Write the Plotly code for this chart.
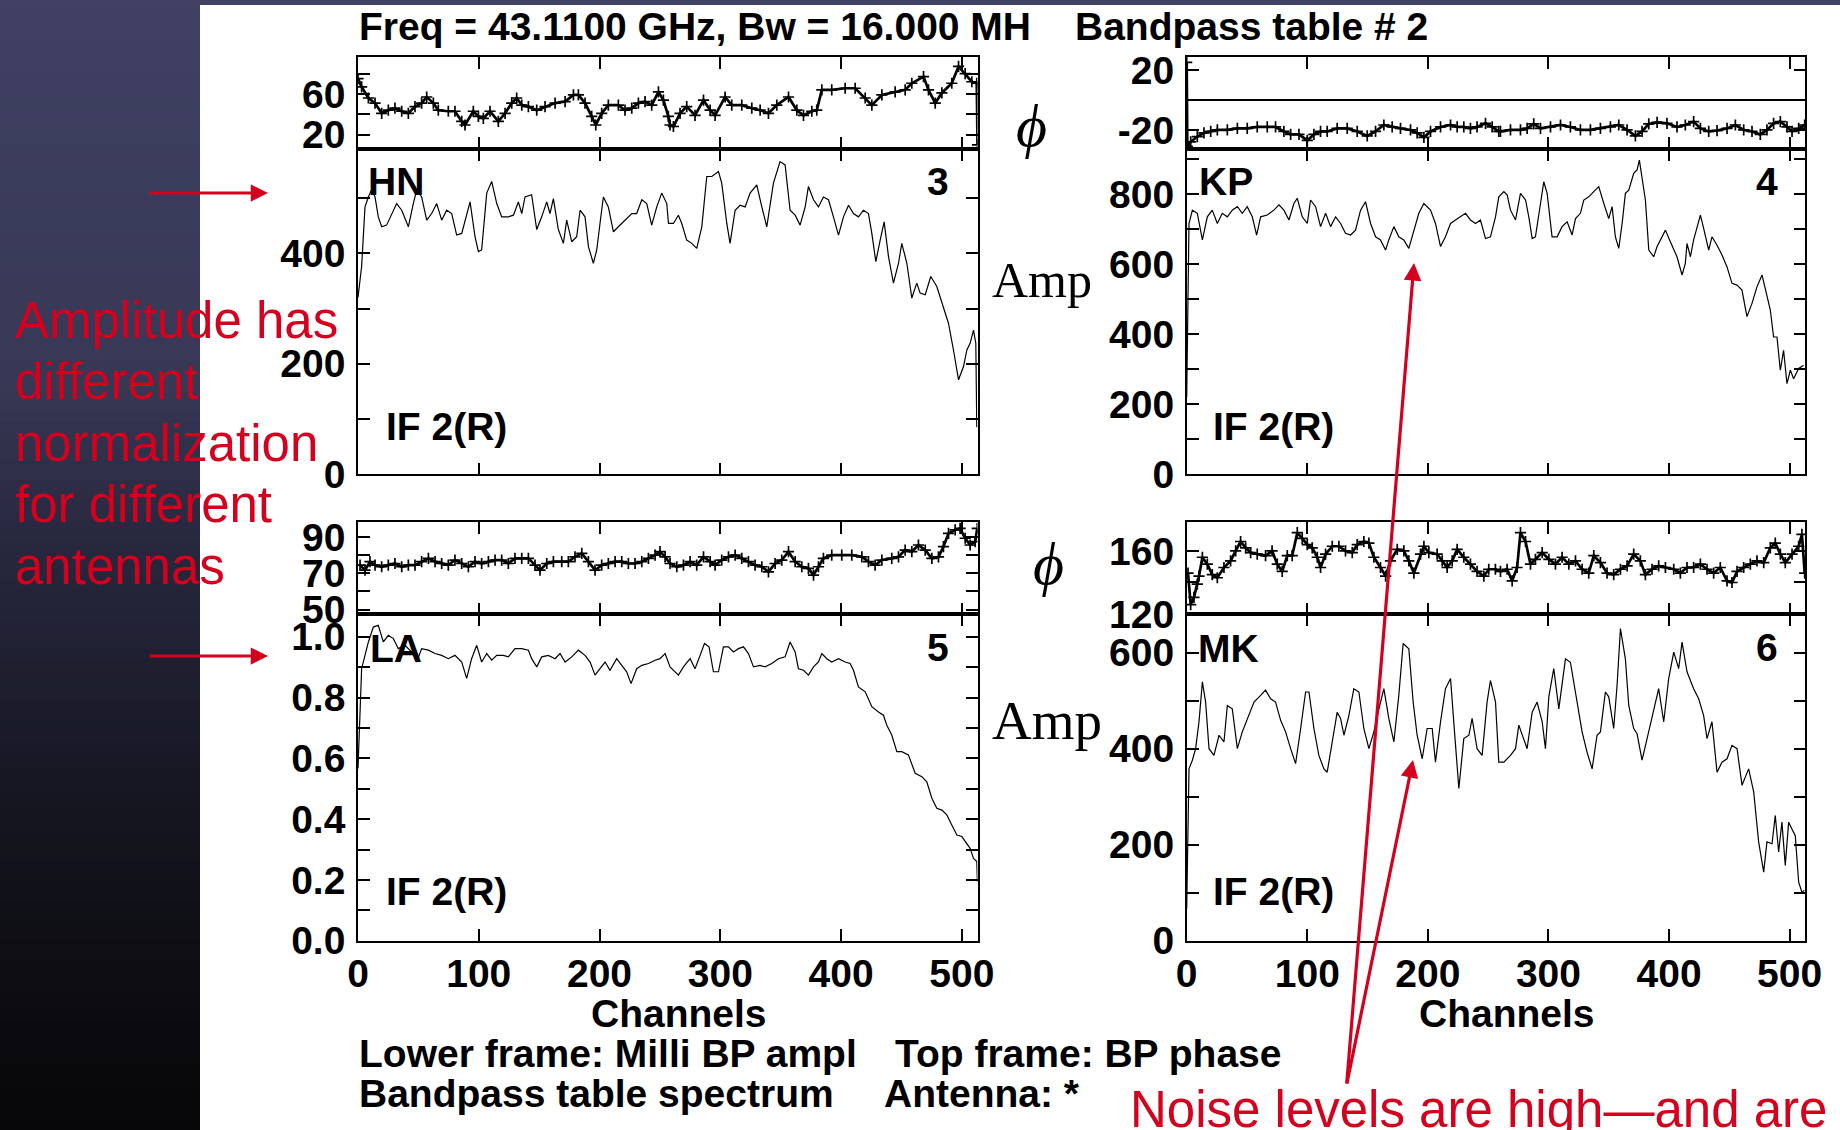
import plotly.graph_objects as go

W, H = 1840, 1130

# ---------------- data (channel, value) ----------------
HN_PHASE = [(0,75),(3,67),(8.6,56),(14.1,51),(19.6,41),(25.1,44),(30.6,46),(36.2,43),(41.7,41),(47.2,47.5),(52.7,51),(56.9,57),(62.4,51),(66.5,44),(74.8,43),(80.3,43),(85.9,33),(88.6,29.5),(95.5,43),(99.7,38),(103.8,36),(109.3,43),(116.2,33),(121.8,41),(127.3,51),(131.4,56),(135.6,49),(141.1,47.5),(148,44),(154.9,47.5),(163.2,51),(171.5,52.5),(178.4,59),(182.5,59),(188,51),(193.5,38),(196.9,29.5),(201.8,41),(207.3,49),(215.6,49),(221.1,44),(226.7,46),(232.2,51),(237.7,52.5),(243.2,49),(248.8,62),(252.9,54),(257,38),(258.4,29.5),(261.2,28),(266.7,41),(272.2,47.5),(279.1,39),(286.1,54),(291.6,44),(295.7,39),(304,57),(309.5,49),(317.8,49),(326.1,46),(333,44),(339.9,41),(346.8,49),(356.5,57),(363.4,44),(368.9,39),(375.8,43),(379.9,44),(384.1,64),(392.3,64),(403.4,65.6),(411.7,65.6),(420,56),(425.5,49),(433.8,59),(444.8,62),(453.1,64),(458.6,70.5),(468.3,77),(472.4,64),(478,51),(483.5,61),(491.7,70.5),(497.3,87),(502.8,80),(508.3,72),(512.4,70.5),(513,10)]

HN_AMP = [(0,320),(3,376),(5.8,484),(8.6,502),(11.3,515),(14.1,502),(16.8,466),(19.6,448),(23.7,451),(27.9,472),(32,490),(36.2,478),(41.7,448),(45.8,490),(48.6,515),(52.7,502),(56.9,460),(61,472),(65.2,490),(69.3,460),(73.4,478),(77.6,472),(81.7,433),(85.9,436),(92.8,493),(96.9,430),(99.7,403),(102.4,406),(106.6,509),(110.7,530),(114.9,490),(119,466),(124.5,466),(128.7,469),(132.8,493),(135.6,472),(138.3,502),(143.8,506),(148,443),(152.1,466),(156.3,493),(159,472),(161.8,499),(165.9,443),(170.1,418),(172.8,460),(177,421),(181.1,430),(183.9,478),(188,466),(190.8,412),(194.9,382),(197.7,406),(200.4,454),(203.2,502),(207.3,484),(211.5,439),(215.6,448),(221.1,460),(226.7,472),(230.8,472),(235,497),(239.1,490),(243.2,451),(247.4,484),(251.5,509),(255.7,490),(257.1,454),(261.2,454),(265.3,469),(268.1,454),(272.2,424),(276.4,418),(280.5,409),(284.7,448),(288.8,539),(293,539),(298.5,548),(301.2,527),(305.4,454),(308.1,418),(312.3,478),(316.4,487),(320.6,484),(324.7,509),(330.2,524),(334.4,484),(338.5,448),(344,527),(349.5,566),(353.7,560),(357.8,478),(362,469),(366.1,451),(370.3,484),(373,521),(377.2,497),(381.3,484),(385.4,502),(389.6,497),(393.7,466),(397.9,433),(402,466),(406.2,487),(410.3,472),(414.4,466),(418.6,478),(422.7,472),(425.5,436),(428.8,385),(432.4,424),(435.7,457),(439.3,394),(443.4,346),(447.6,382),(450.3,418),(454.5,382),(458.6,319),(462.7,346),(465.5,328),(469.7,325),(474.3,358),(479.3,340),(483.5,310),(489,273),(493.1,225),(497.3,171),(501.4,195),(504.2,225),(506.9,237),(509.7,261),(511.6,237),(512.4,85)]

KP_PHASE = [(0,25),(0.5,-31),(3.3,-28),(8.8,-24.4),(14.3,-22),(19.9,-21),(25.4,-20),(33.7,-20),(42,-19),(50.2,-19),(58.5,-18),(66.8,-18),(73.7,-18),(80.6,-21),(86.2,-23),(93.1,-23),(100,-27),(105.5,-23),(111,-21),(116.5,-21),(124.8,-19),(133.1,-19),(141.4,-21),(149.7,-24),(156.6,-21),(163.5,-16.7),(170.4,-18),(177.3,-19),(185.6,-20),(191.1,-22),(196.7,-25),(202.2,-21),(210.5,-18),(218.8,-16.7),(224.3,-18),(229.8,-18),(235.3,-19),(240.8,-18),(247.8,-15.6),(253.3,-18),(258.8,-21),(260.2,-21),(268.5,-20),(276.8,-20),(282.3,-19),(287.8,-16),(293.4,-19),(301.7,-18),(310,-16.7),(318.2,-18),(326.5,-20),(334.8,-20),(343.1,-19),(351.4,-18),(358.3,-16.7),(365.2,-20),(372.1,-24),(377.6,-21),(383.2,-16),(390.1,-15),(398.3,-15.6),(406.6,-18),(413.5,-16.7),(420.4,-14.4),(426,-19),(432.9,-21),(439.8,-20.4),(448.1,-19),(455,-16.7),(461.9,-20),(468.8,-21),(475.7,-23),(481.2,-20),(486.7,-15.6),(492.3,-14.4),(497.8,-18),(502,-21),(507.5,-19),(512.5,-16.7)]

KP_AMP = [(0,220),(1.9,716),(4.7,754),(8.8,745),(13,669),(17.1,735),(21.2,754),(25.4,716),(29.5,745),(33.7,735),(37.8,754),(42,764),(46.1,745),(50.2,764),(54.4,735),(58,683),(61.3,735),(66.8,740),(72.3,754),(76.5,769),(80.6,754),(84.8,726),(88.9,773),(91.7,788),(95.8,735),(100,716),(102.7,783),(106.9,764),(111,707),(115.2,745),(119.3,707),(123.5,735),(127.6,716),(131.7,688),(135.9,683),(140,697),(144.2,754),(148.3,778),(152.5,716),(156.6,678),(160.7,669),(164.9,640),(167.6,669),(171.8,707),(175.9,678),(180,669),(184.2,645),(188.4,697),(192.5,745),(196.7,773),(202.2,754),(206.3,716),(210.5,650),(214.6,678),(218.8,716),(222.9,726),(227,735),(231.2,745),(235.3,726),(239.5,716),(243.6,726),(247.8,673),(251.9,678),(256.1,735),(258.8,792),(263,807),(265.8,797),(268.5,754),(272.7,726),(276.8,802),(281,783),(283.7,735),(286.5,673),(289.2,678),(293.4,773),(296.1,835),(298.9,802),(303,678),(307.2,678),(311.3,707),(315.5,721),(319.6,683),(322.4,730),(326.5,745),(329.3,783),(333.4,792),(337.6,807),(341.7,821),(345.9,773),(350,730),(352.8,764),(355.5,678),(358.3,645),(361.1,716),(363.8,802),(366.6,811),(370.7,859),(373.5,869),(375.4,897),(377.6,850),(380.4,783),(383.2,640),(387.3,621),(390.1,650),(394.2,678),(397,697),(401.1,664),(406.6,621),(410.8,569),(413.5,602),(414.9,659),(417.7,621),(420.4,669),(423.2,707),(426,740),(428.7,702),(432.9,640),(435.6,678),(439.8,654),(443.9,626),(448.1,592),(452.2,545),(456.4,540),(460.5,526),(464.6,450),(468.8,488),(472.9,535),(477.1,569),(479.8,526),(484,469),(486.7,392),(489.5,392),(492.3,297),(495,354),(497.8,259),(500.6,297),(503.3,273),(507.5,302),(511.6,311)]

LA_PHASE = [(1.7,74.5),(5.8,71.7),(9.9,76.4),(14.1,74.5),(19.6,73.6),(25.1,74.5),(30.6,75.4),(36.2,73.6),(41.7,74.5),(47.2,74.5),(52.7,76.4),(58.3,78.2),(63.8,76.4),(69.3,75.4),(74.8,74.5),(80.3,77.3),(85.9,75.4),(91.4,73.6),(96.9,76.4),(102.4,75.4),(108,76.4),(113.5,77.3),(119,77.3),(124.5,75.4),(130,78.2),(135.6,78.2),(141.1,78.2),(146.6,74.5),(150.7,71.7),(156.3,75.4),(161.8,76.4),(168.7,76.4),(174.2,76.4),(179.7,79.1),(185.3,81),(190.8,76.4),(196.3,71.7),(201.8,74.5),(207.3,75.4),(212.9,76.4),(218.4,76.4),(223.9,75.4),(229.4,75.4),(235,76.4),(240.5,78.2),(246,80),(250.1,81.9),(254.3,79.1),(258.4,75.4),(264,73.6),(269.5,74.5),(275,76.4),(280.5,74.5),(286.1,79.1),(291.6,76.4),(295.7,74.5),(301.2,77.3),(306.8,79.1),(312.3,80),(317.8,78.2),(323.3,76.4),(328.8,74.5),(334.4,73.6),(339.9,70.8),(345.4,75.4),(350.9,77.3),(356.5,81.9),(362,76.4),(367.5,73.6),(373,72.7),(377.2,69),(381.3,73.6),(385.4,78.2),(392.3,80),(400.6,80),(408.9,80),(417.2,79.1),(422.7,76.4),(428.2,74.5),(433.8,77.3),(442,78.2),(447.6,79.1),(453.1,82.8),(458.6,81.9),(464.1,85.6),(469.7,82.8),(475.2,78.2),(480.7,79.1),(484.8,84.7),(489,92),(494.5,93.9),(498.6,94.8),(502.8,89.3),(506.9,85.6),(511.1,87.4),(512.8,94.8)]

LA_AMP = [(0,0.567),(3,0.895),(5.8,0.939),(8.6,0.983),(12.7,1.032),(16.8,1.038),(21,0.983),(25.1,1.005),(29.3,0.994),(33.4,0.961),(38.9,0.972),(44.5,0.95),(48.6,0.917),(52.7,0.961),(58.3,0.956),(63.8,0.945),(69.3,0.939),(74.8,0.928),(80.3,0.939),(85.9,0.917),(90,0.863),(94.1,0.928),(98.3,0.972),(102.4,0.917),(106.6,0.945),(110.7,0.923),(114.9,0.939),(120.4,0.939),(124.5,0.934),(130,0.961),(135.6,0.961),(141.1,0.956),(143.8,0.928),(148,0.901),(152.1,0.934),(157.6,0.939),(163.2,0.928),(167.3,0.945),(171.5,0.917),(177,0.934),(182.5,0.956),(188,0.939),(192.2,0.917),(196.3,0.874),(200.4,0.895),(204.6,0.917),(208.7,0.89),(214.2,0.928),(218.4,0.906),(222.5,0.885),(226.1,0.846),(230.8,0.895),(235,0.906),(240.5,0.912),(246,0.923),(250.1,0.928),(254.3,0.945),(258.4,0.901),(265.3,0.874),(269.5,0.901),(275,0.928),(279.1,0.895),(283.3,0.939),(286.9,0.978),(290.7,0.967),(294.3,0.885),(298.5,0.885),(302.6,0.967),(306.8,0.967),(310.9,0.95),(315,0.961),(319.2,0.967),(323.3,0.945),(327.5,0.901),(333,0.906),(337.1,0.901),(342.6,0.912),(348.2,0.928),(353.7,0.934),(357.8,0.983),(362,0.95),(364.7,0.895),(368.9,0.89),(373,0.874),(377.2,0.901),(381.3,0.917),(384.1,0.945),(388.2,0.928),(392.3,0.917),(397.9,0.928),(403.4,0.917),(407.5,0.912),(410.3,0.89),(414.4,0.835),(420,0.819),(425.5,0.77),(431,0.753),(435.1,0.742),(437.9,0.709),(442,0.677),(446.2,0.622),(450.3,0.622),(455.8,0.611),(461.4,0.551),(466.9,0.54),(471,0.523),(475.2,0.469),(479.3,0.436),(483.5,0.43),(487.6,0.414),(491.7,0.381),(495.9,0.348),(500,0.343),(504.2,0.321),(506.9,0.304),(509.7,0.271),(512.4,0.261),(512.9,0.195)]

MK_PHASE = [(1.1,146),(3.3,126),(6,130.5),(8.8,139),(10.2,144),(13,156),(17.1,151.6),(21.2,145),(25.4,143),(30.9,149.5),(36.4,153.7),(40.6,160),(44.7,166),(48.9,162),(53,159),(58.5,158),(65.4,157),(70.8,160),(75.1,151.6),(79.2,147),(83.4,157),(87.5,157),(91.7,171.6),(95.8,168),(100,164),(104.1,162),(108.3,156),(111,149.5),(115.2,158),(120.7,163),(126.2,163),(131.7,160),(137.3,159),(141.4,164),(146.9,166),(151.1,165),(155.2,156),(160.7,149.5),(165,144),(169,153.7),(174.6,161),(180.1,160),(184.2,153.7),(188.4,146),(193.9,158),(196.7,163),(200.8,159),(207.7,158),(211.9,153.7),(216,149.5),(220.2,153.7),(224.3,161),(229.8,156),(235.3,151.6),(240.8,147),(246.4,144),(250.5,148.4),(256,148.4),(260.2,147),(265.7,148.4),(269.9,141),(274,149.5),(276.8,171.6),(281,166),(285.1,151.6),(289.2,154.7),(294.8,159),(300.3,154.7),(305.8,151.6),(311.3,156),(316.9,151.6),(322.4,153.7),(327.9,148.4),(333.4,146),(337.6,157),(343.1,152.6),(348.6,146),(354.1,145),(359.7,148.4),(365.2,150.5),(370.7,158),(376.2,153.7),(380.4,145),(385.9,148.4),(391.4,150.5),(397,149.5),(403.9,148.4),(409.4,146),(414.9,149.5),(420.4,149.5),(426,151.6),(431.5,148.4),(437,146),(442.5,149.5),(448.1,141),(452.2,140),(456.4,147),(461.9,149.5),(467.4,151.6),(472.9,153.7),(478.5,152.6),(484,162),(488.1,165),(492.3,158),(496.4,152.6),(502,158),(507.5,163),(510.2,170.5),(512.5,146)]

MK_AMP = [(0,67),(1.9,358),(4.7,376),(7.4,400),(10.2,456),(13,539),(15.7,497),(18.5,400),(22.6,386),(26.8,428),(30.9,414),(33.7,490),(37.8,483),(42,400),(46.1,435),(50.2,463),(55.8,497),(61.3,511),(65.4,522),(69.6,504),(73.7,497),(77.9,459),(82,435),(86.2,400),(90.3,369),(94.5,442),(98.6,518),(101.4,518),(105.5,442),(109.6,386),(113.8,358),(116.5,351),(120.7,414),(124.8,476),(127.6,463),(130.4,428),(134.5,469),(138.6,525),(142.8,518),(146.9,442),(151.1,400),(155.2,435),(159.4,483),(163.5,525),(167.6,463),(171.8,414),(175.9,511),(179.5,619),(184.2,608),(187.8,497),(191.1,428),(195.3,379),(199.4,442),(203.6,442),(206.3,372),(210.5,456),(214.6,525),(218.8,546),(222.1,435),(225.7,317),(229.8,421),(234,428),(236.7,463),(240.8,400),(245,386),(249.1,497),(251.9,542),(256.1,497),(258.8,372),(263,372),(268.5,386),(272.7,400),(275.4,449),(278.2,428),(282.3,400),(286.5,476),(290.6,497),(294.8,456),(297.5,400),(300.3,508),(304.4,567),(308.6,483),(314.1,587),(318.2,580),(323.8,497),(327.9,435),(332,393),(336.2,358),(340.3,428),(343.1,435),(347.2,518),(350,508),(354.1,442),(356.9,532),(359.7,650),(363.8,587),(366.6,490),(370.7,442),(373.5,431),(377.6,376),(381.8,421),(387.3,483),(391.4,525),(395.6,456),(399.7,546),(403.9,601),(408,567),(410.8,622),(414.9,560),(420.4,525),(424.6,504),(428.7,469),(431.5,421),(435.6,456),(439.8,351),(443.9,372),(448.1,379),(452.2,407),(456.4,400),(460.5,324),(466,358),(470.2,310),(474.3,206),(478.5,143),(481.2,206),(485.4,202),(488.1,261),(490.9,185),(493.6,247),(496.4,157),(499.2,247),(501.9,233),(504.7,219),(507.5,122),(510.2,101),(512.2,105)]

ANTENNAS = ["HN", "KP", "LA", "MK"]
PANEL_NUMBERS = ["3", "4", "5", "6"]
X_TICKS = [0, 100, 200, 300, 400, 500]
KP_PHASE_TICKS = [-20, 20]
KP_PHASE_TICKTEXT = ["-20", "20"]

TITLE_LEFT = "Freq = 43.1100 GHz, Bw = 16.000 MH"
TITLE_RIGHT = "Bandpass table # 2"
FOOT_1L = "Lower frame: Milli BP ampl"
FOOT_1R = "Top frame: BP phase"
FOOT_2L = "Bandpass table spectrum"
FOOT_2R = "Antenna: *"
RED_NOTE_LINES = ["Amplitude has", "different", "normalization", "for different", "antennas"]
RED_NOTE_2 = "Noise levels are high\u2014and are"

# ---------------- helpers ----------------
def px(x):
    return x / W


def py(y):
    return 1 - y / H


RED = "#d3001e"
SANS = "Liberation Sans, Arial, Helvetica, sans-serif"
SERIF = "Liberation Serif, Times New Roman, DejaVu Serif, serif"
BOLD = dict(family=SANS, size=39, color="black", weight="bold")

fig = go.Figure()

panels = [
    dict(ph=HN_PHASE, amp=HN_AMP, x0=358, x1=977.5, yt=57.3, yd=149, yb=474.3,
         pr=[5.9, 96.0], pt0=20, pdt=40, pmin=20, ar=[0, 588.8], adt=200, amin=100, fmt="d", zero=False, xlab=False),
    dict(ph=KP_PHASE, amp=KP_AMP, x0=1186.7, x1=1805.3, yt=57.3, yd=149, yb=474.3,
         pr=[-32.7, 28.4], pt0=-20, pdt=40, pmin=20, ar=[0, 928.6], adt=200, amin=100, fmt="d", zero=True, xlab=False),
    dict(ph=LA_PHASE, amp=LA_AMP, x0=358, x1=977.5, yt=522.3, yd=614.3, yb=940.8,
         pr=[47.4, 98.1], pt0=50, pdt=20, pmin=10, ar=[0, 1.074], adt=0.2, amin=0.1, fmt=".1f", zero=False, xlab=True),
    dict(ph=MK_PHASE, amp=MK_AMP, x0=1186.7, x1=1805.3, yt=522.3, yd=614.3, yb=940.8,
         pr=[119.8, 178.2], pt0=120, pdt=40, pmin=20, ar=[0, 679.8], adt=200, amin=100, fmt="d", zero=False, xlab=True),
]

AX_COMMON = dict(ticks="inside", ticklen=12, tickwidth=1.5, tickcolor="black",
                 showline=True, linecolor="black", linewidth=1.6, mirror="allticks",
                 showgrid=False, fixedrange=True, tickfont=BOLD, automargin=False)

layout_axes = {}
for i, p in enumerate(panels):
    ia = 2 * i + 1  # phase axis index
    ib = 2 * i + 2  # amp axis index
    xd = [px(p["x0"]), px(p["x1"])]
    fig.add_trace(go.Scatter(
        x=[c for c, v in p["ph"]], y=[v for c, v in p["ph"]],
        xaxis=f"x{ia}", yaxis=f"y{ia}", mode="lines+markers",
        line=dict(color="black", width=2.7),
        marker=dict(symbol="cross-thin", size=8, line=dict(color="black", width=1.7)),
        hoverinfo="skip"))
    fig.add_trace(go.Scatter(
        x=[c for c, v in p["amp"]], y=[v for c, v in p["amp"]],
        xaxis=f"x{ib}", yaxis=f"y{ib}", mode="lines",
        line=dict(color="black", width=1.2),
        hoverinfo="skip"))

    phase_kw = dict(range=p["pr"], tick0=p["pt0"], dtick=p["pdt"],
                    minor=dict(tick0=p["pt0"], dtick=p["pmin"], ticks="inside", ticklen=12,
                               tickwidth=1.5, tickcolor="black", showgrid=False),
                    zeroline=p["zero"], zerolinecolor="black", zerolinewidth=1.6)
    if p["zero"]:
        phase_kw.update(tickmode="array", tickvals=KP_PHASE_TICKS, ticktext=KP_PHASE_TICKTEXT)
    amp_kw = dict(range=p["ar"], tick0=0, dtick=p["adt"], tickformat=p["fmt"],
                  minor=dict(tick0=0, dtick=p["amin"], ticks="inside", ticklen=12,
                             tickwidth=1.5, tickcolor="black", showgrid=False),
                  zeroline=False)

    for idx, ytop, ybot, ykw in [(ia, p["yt"], p["yd"], phase_kw), (ib, p["yd"], p["yb"], amp_kw)]:
        sfx = "" if idx == 1 else str(idx)
        layout_axes[f"xaxis{sfx}"] = dict(
            domain=xd, anchor=f"y{idx}", range=[0, 513], tickvals=X_TICKS,
            showticklabels=(p["xlab"] and idx == ib), zeroline=False,
            ticklabelstandoff=-2, **AX_COMMON)
        layout_axes[f"yaxis{sfx}"] = dict(
            domain=[py(ybot), py(ytop)], anchor=f"x{idx}", ticklabelstandoff=3,
            **ykw, **AX_COMMON)

# ---------------- background (dark slide strip) ----------------
shapes = []
stops = [(0, (64, 65, 99)), (380, (54, 56, 85)), (560, (38, 39, 60)), (760, (24, 24, 37)),
         (950, (14, 14, 20)), (1130, (7, 7, 9))]


def grad(y):
    for (y0, c0), (y1, c1) in zip(stops[:-1], stops[1:]):
        if y0 <= y <= y1:
            t = (y - y0) / (y1 - y0)
            return tuple(round(a + (b - a) * t) for a, b in zip(c0, c1))
    return stops[-1][1]


band = 10
for yy in range(0, H, band):
    c = grad(yy + band / 2)
    shapes.append(dict(type="rect", xref="paper", yref="paper", x0=0, x1=px(200),
                       y0=py(min(yy + band + 2, H)), y1=py(yy), line=dict(width=0),
                       fillcolor=f"rgb{c}", layer="below"))
shapes.append(dict(type="rect", xref="paper", yref="paper", x0=0, x1=1, y0=py(5), y1=1,
                   line=dict(width=0), fillcolor="rgb(64,65,99)", layer="below"))

# ---------------- annotations ----------------
ann = []


def text(t, x, y, font, xanchor="left", yanchor="middle"):
    ann.append(dict(text=t, x=px(x), y=py(y), xref="paper", yref="paper", showarrow=False,
                    xanchor=xanchor, yanchor=yanchor, font=font, borderpad=0))


text(TITLE_LEFT, 358, 27, BOLD)
text(TITLE_RIGHT, 1074, 27, BOLD)

name_pos = [(367, 181), (1198, 181), (369, 648), (1197, 648)]
num_pos = [(950, 181), (1779, 181), (950, 647), (1779, 647)]
if_pos = [(385, 426), (1212, 426), (385, 891), (1212, 891)]
for nm, (nx, ny), num, (mx, my), (ix, iy) in zip(ANTENNAS, name_pos, PANEL_NUMBERS, num_pos, if_pos):
    text(nm, nx, ny, BOLD)
    text(num, mx, my, BOLD, xanchor="right")
    text("IF 2(R)", ix, iy, BOLD)

text("Channels", 679, 1013, BOLD, xanchor="center")
text("Channels", 1507, 1013, BOLD, xanchor="center")
text(FOOT_1L, 358, 1053, BOLD)
text(FOOT_1R, 894, 1053, BOLD)
text(FOOT_2L, 358, 1093, BOLD)
text(FOOT_2R, 883, 1093, BOLD)

PHI_FONT = dict(family=SERIF, size=60, color="black", style="italic")
text("\u03d5", 1031, 126, PHI_FONT, xanchor="center")
text("\u03d5", 1048, 564, PHI_FONT, xanchor="center")
text("Amp", 991, 280, dict(family=SERIF, size=50, color="black"))
text("Amp", 991, 720, dict(family=SERIF, size=55, color="black"))

RED_FONT = dict(family=SANS, size=51, color=RED)
for k, line in enumerate(RED_NOTE_LINES):
    text(line, 14, 320 + 61.5 * k, RED_FONT)
text(RED_NOTE_2, 1129, 1109, RED_FONT)


def arrow(tipx, tipy, tailx, taily, width=3, size=1.15):
    ann.append(dict(text="", x=px(tipx), y=py(tipy), xref="paper", yref="paper",
                    ax=tailx - tipx, ay=taily - tipy, axref="pixel", ayref="pixel",
                    showarrow=True, arrowhead=2, arrowsize=size, arrowwidth=width,
                    arrowcolor=RED))


arrow(268, 193, 148, 193)
arrow(268, 656, 148, 656)
arrow(1414, 263, 1346.6, 1085, width=3.2, size=1.1)
arrow(1413, 760, 1346.6, 1085, width=3.2, size=1.1)

fig.update_layout(
    template="none",
    width=W, height=H, autosize=False,
    margin=dict(l=0, r=0, t=0, b=0, pad=0, autoexpand=False),
    paper_bgcolor="white", plot_bgcolor="white",
    font=dict(family=SANS, color="black"),
    showlegend=False, shapes=shapes, annotations=ann,
    **layout_axes)

fig.write_html("out.html", include_plotlyjs=True, config=dict(displayModeBar=False))
